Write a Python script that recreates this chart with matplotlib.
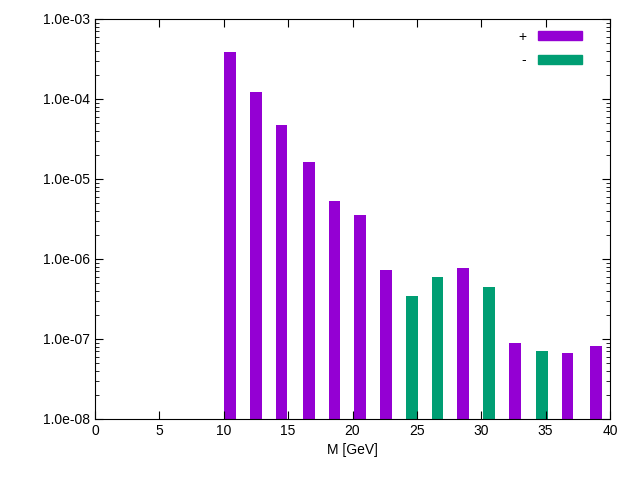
import matplotlib
matplotlib.use("Agg")
import matplotlib.pyplot as plt
from matplotlib.ticker import LogLocator, FixedLocator, FuncFormatter
from matplotlib.patches import Patch

plt.rcParams['font.family'] = ['Liberation Sans', 'DejaVu Sans']
plt.rcParams['font.size'] = 10

mass = [10.5, 12.5, 14.5, 16.6, 18.6, 20.6, 22.6, 24.6, 26.6, 28.6, 30.6, 32.6, 34.7, 36.7, 38.9]
values = [3.87e-4, 1.22e-4, 4.73e-5, 1.63e-5, 5.3e-6, 3.55e-6, 7.1e-7, 3.35e-7, 5.9e-7,
          7.7e-7, 4.4e-7, 8.0e-8, 6.0e-8, 5.6e-8, 7.1e-8]
signs = ['+', '+', '+', '+', '+', '+', '+', '-', '-', '+', '-', '+', '-', '+', '+']
col = {'+': '#9400D3', '-': '#009E73'}

fig = plt.figure(figsize=(6.4, 4.8), dpi=100)
ax = fig.add_axes([95/640, 1-419/480, 515/640, 400/480])
ax.bar(mass, values, width=0.9, bottom=1e-8, color=[col[s] for s in signs])
ax.set_yscale('log')
ax.set_xlim(0, 40)
ax.set_ylim(1e-8, 1e-3)
ax.xaxis.set_major_locator(FixedLocator(range(0, 41, 5)))
ax.yaxis.set_major_locator(LogLocator(base=10, numticks=10))
ax.yaxis.set_minor_locator(LogLocator(base=10, subs=range(2, 10), numticks=20))
ax.yaxis.set_major_formatter(FuncFormatter(lambda v, p: f"{v:.1e}"))
ax.tick_params(which='both', direction='in', top=True, right=True)
ax.tick_params(which='major', length=6)
ax.tick_params(which='minor', length=3)
ax.set_xlabel('M [GeV]')
leg = ax.legend(handles=[Patch(color=col['+'], label='+'), Patch(color=col['-'], label='-')],
                loc='upper right', bbox_to_anchor=(0.97, 1.005), frameon=False,
                markerfirst=False, handlelength=3.2, handleheight=0.6, fontsize=10,
                labelspacing=0.7)
fig.savefig('out.png', dpi=100)
